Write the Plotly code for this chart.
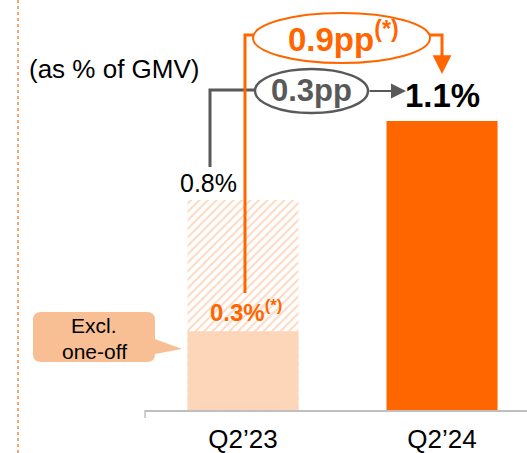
import plotly.graph_objects as go

# ---- data -------------------------------------------------------------
categories = ["Q2’23", "Q2’24"]
gmv_share = [0.8, 1.1]          # reported, as % of GMV
excl_one_off = [0.3]            # Q2'23 excluding the one-off
change_reported = "0.3pp"
change_excl = "0.9pp"

# ---- styling ----------------------------------------------------------
ORANGE = "#ff6600"
PEACH = "#fdd5b8"
HATCH = "#f9b387"
CALLOUT = "#f9bf94"
GREY = "#595959"
FONT = "Arial, Liberation Sans, sans-serif"

W, H = 527, 453
PLOT_L, PLOT_R, PLOT_T, PLOT_B = 145, 527, 0, 410
BAR_W = 0.558
X_RANGE = [-0.4925, 1.427]
Y_RANGE = [0, 1.561]


def fx(p):
    return (p - PLOT_L) / (PLOT_R - PLOT_L)


def fy(p):
    return (PLOT_B - p) / (PLOT_B - PLOT_T)


xs = list(range(len(categories)))

fig = go.Figure()

# Q2'23 reported share (hatched)
fig.add_trace(go.Bar(
    x=xs[:1], y=gmv_share[:1], width=BAR_W,
    marker=dict(
        color="white",
        line=dict(width=0),
        pattern=dict(shape="/", fgcolor=HATCH, bgcolor="white",
                     size=6, solidity=0.35, fillmode="overlay"),
    ),
    hoverinfo="skip",
))
# Q2'24 reported share (solid)
fig.add_trace(go.Bar(
    x=xs[1:], y=gmv_share[1:], width=BAR_W,
    marker=dict(color=ORANGE, line=dict(width=0)),
    hoverinfo="skip",
))
# Q2'23 excluding one-off
fig.add_trace(go.Bar(
    x=xs[:1], y=excl_one_off, width=BAR_W,
    marker=dict(color=PEACH, line=dict(width=0)),
    hoverinfo="skip",
))

shapes = []
annotations = []

# dotted divider on the left
shapes.append(dict(type="line", xref="paper", yref="paper", layer="below",
                   x0=fx(18), x1=fx(18), y0=fy(0), y1=fy(H),
                   line=dict(color="#f6a570", width=2, dash="dot")))
# small tick at the left end of the axis
shapes.append(dict(type="line", xref="paper", yref="paper",
                   x0=0, x1=0, y0=0, y1=fy(418),
                   line=dict(color="#bfbfbf", width=1.5)))

# grey bracket from the 0.8% label to the 0.3pp bubble
shapes.append(dict(type="path", xref="paper", yref="paper", layer="below",
                   path=f"M {fx(210)},{fy(167)} L {fx(210)},{fy(90)} L {fx(256)},{fy(90)}",
                   line=dict(color=GREY, width=3)))
# orange connector from the 0.3% label to the 0.9pp bubble
shapes.append(dict(type="path", xref="paper", yref="paper",
                   path=f"M {fx(245)},{fy(293)} L {fx(245)},{fy(35)} L {fx(255)},{fy(35)}",
                   line=dict(color=ORANGE, width=3)))
shapes.append(dict(type="path", xref="paper", yref="paper",
                   path=f"M {fx(428)},{fy(35)} L {fx(442)},{fy(35)} L {fx(442)},{fy(60)}",
                   line=dict(color=ORANGE, width=3)))

# bubbles
shapes.append(dict(type="circle", xref="paper", yref="paper",
                   x0=fx(255), x1=fx(368), y0=fy(113), y1=fy(69),
                   fillcolor="white", line=dict(color=GREY, width=2.5)))
shapes.append(dict(type="circle", xref="paper", yref="paper",
                   x0=fx(253), x1=fx(430), y0=fy(63), y1=fy(13),
                   fillcolor="white", line=dict(color=ORANGE, width=2)))


# callout box with pointer
def rounded_box(x0, y0, x1, y1, r, tip):
    rx = r / (PLOT_R - PLOT_L)
    ry = r / (PLOT_B - PLOT_T)
    X0, X1, Y0, Y1 = fx(x0), fx(x1), fy(y0), fy(y1)
    tx, ty = tip
    return (
        f"M {X0 + rx},{Y0} L {X1 - rx},{Y0} Q {X1},{Y0} {X1},{Y0 - ry} "
        f"L {X1},{fy(339)} L {fx(tx)},{fy(ty)} L {X1},{fy(354)} "
        f"L {X1},{Y1 + ry} Q {X1},{Y1} {X1 - rx},{Y1} "
        f"L {X0 + rx},{Y1} Q {X0},{Y1} {X0},{Y1 + ry} "
        f"L {X0},{Y0 - ry} Q {X0},{Y0} {X0 + rx},{Y0} Z"
    )


shapes.append(dict(type="path", xref="paper", yref="paper",
                   path=rounded_box(33, 312, 155, 362, 8, (182, 349)),
                   fillcolor=CALLOUT, line=dict(width=0)))


def note(px, py, text, size, color="black"):
    return dict(xref="paper", yref="paper", x=fx(px), y=fy(py),
                xanchor="center", yanchor="middle", text=text,
                showarrow=False, font=dict(size=size, color=color))


annotations += [
    note(114, 69, "(as % of GMV)", 26),
    note(94, 325, "Excl.", 21),
    note(94, 351, "one-off", 21),
    note(311, 91, f"<b>{change_reported}</b>", 31, GREY),
    note(343, 37, f"<b>{change_excl}<sup>(*)</sup></b>", 33, ORANGE),
    # value labels
    dict(x=xs[0], y=gmv_share[0], xshift=-35, yshift=1, yanchor="bottom",
         xanchor="center", text=f"{gmv_share[0]:.1f}%", showarrow=False,
         font=dict(size=25, color="black")),
    dict(x=xs[0], y=excl_one_off[0], xshift=3, yshift=3, yanchor="bottom",
         xanchor="center",
         text=f"<b>{excl_one_off[0]:.1f}%<sup>(*)</sup></b>", showarrow=False,
         font=dict(size=24, color=ORANGE)),
    dict(x=xs[1], y=gmv_share[1], yshift=5, yanchor="bottom",
         xanchor="center", text=f"<b>{gmv_share[1]:.1f}%</b>",
         showarrow=False, font=dict(size=33, color="black")),
    # arrows
    dict(xref="paper", yref="paper", x=fx(406), y=fy(91), ax=-38, ay=0,
         text="", showarrow=True, arrowhead=2, arrowsize=1.5,
         arrowwidth=2, arrowcolor=GREY),
    dict(xref="paper", yref="paper", x=fx(442), y=fy(74), ax=0, ay=-22,
         text="", showarrow=True, arrowhead=2, arrowsize=1.5,
         arrowwidth=2.5, arrowcolor=ORANGE),
]

fig.update_layout(
    width=W, height=H, autosize=False,
    margin=dict(l=PLOT_L, r=W - PLOT_R, t=PLOT_T, b=H - PLOT_B),
    paper_bgcolor="white", plot_bgcolor="white",
    barmode="overlay", showlegend=False,
    font=dict(family=FONT, color="black"),
    xaxis=dict(range=X_RANGE, tickvals=xs, ticktext=categories,
               showline=True, linecolor="#bfbfbf", linewidth=1.5,
               showgrid=False, zeroline=False,
               ticks="outside", ticklen=5, tickcolor="rgba(0,0,0,0)",
               tickfont=dict(size=26, color="black"), fixedrange=True),
    yaxis=dict(range=Y_RANGE, visible=False, fixedrange=True),
    shapes=shapes,
    annotations=annotations,
)

fig.write_html("out.html")
